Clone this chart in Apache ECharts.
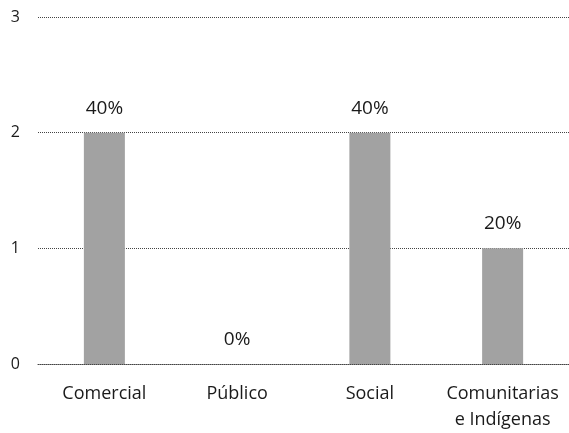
<!DOCTYPE html>
<html><head><meta charset="utf-8">
<script src="https://cdn.jsdelivr.net/npm/echarts@6/dist/echarts.min.js"></script>
<style>html,body{margin:0;padding:0;background:#fff}#c{width:569px;height:433px}</style>
</head><body><div id="c"></div>
<script>
const categories = ['Comercial', 'Público', 'Social', 'Comunitarias\ne Indígenas'];
const values = [2, 0, 2, 1];
const percentLabels = ['40%', '0%', '40%', '20%'];
const yTicks = [0, 1, 2, 3];

const chart = echarts.init(document.getElementById('c'));
chart.setOption({
  animation: false,
  grid: { left: 38, right: 0, top: 17, bottom: 69, containLabel: false },
  xAxis: {
    type: 'category',
    data: categories,
    axisLine: { show: true, lineStyle: { color: '#444', type: [1, 1], width: 1 } },
    axisTick: { show: false },
    axisLabel: { interval: 0, hideOverlap: false, color: '#1a1a1a', fontFamily: 'Open Sans', fontSize: 18, margin: 17, lineHeight: 26 }
  },
  yAxis: {
    type: 'value', min: 0, max: 3, interval: 1,
    axisLine: { show: false }, axisTick: { show: false },
    splitLine: { lineStyle: { color: '#444', type: [1, 1], width: 1 } },
    axisLabel: { color: '#1a1a1a', fontFamily: 'Open Sans', fontSize: 16, margin: 18,
      formatter: v => yTicks.includes(v) ? String(v) : '' }
  },
  series: [{
    type: 'bar',
    data: values,
    barWidth: 41,
    itemStyle: { color: '#a2a2a2' },
    label: {
      show: true, position: 'top', distance: 15,
      color: '#1a1a1a', fontFamily: 'Open Sans', fontSize: 19,
      formatter: p => percentLabels[p.dataIndex]
    }
  }]
});
</script></body></html>
